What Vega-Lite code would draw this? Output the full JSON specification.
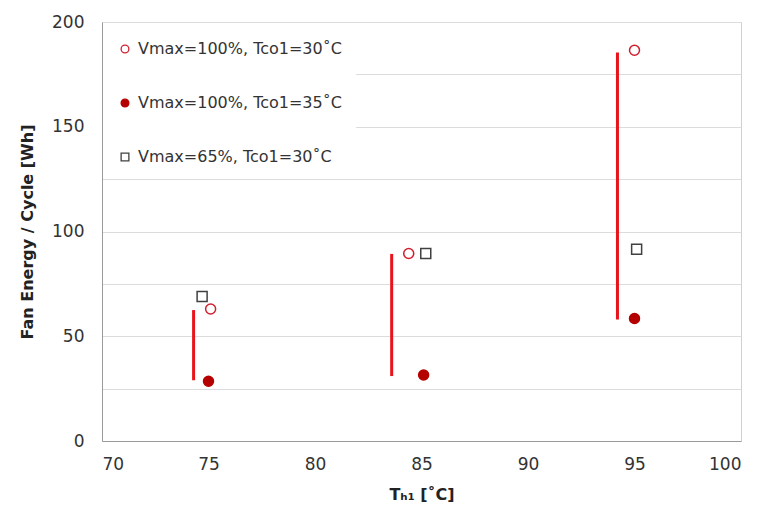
{
  "$schema": "https://vega.github.io/schema/vega-lite/v6.json",
  "width": 639,
  "height": 419,
  "autosize": {"type": "none"},
  "padding": {"left": 102, "top": 22, "right": 19, "bottom": 77},
  "background": "white",
  "config": {
    "font": "DejaVu Sans",
    "view": {"stroke": "#d0d0d0", "strokeWidth": 1},
    "axis": {
      "labelFont": "DejaVu Sans",
      "titleFont": "DejaVu Sans",
      "labelFontSize": 17,
      "labelColor": "#333333",
      "titleFontSize": 16,
      "titleColor": "#222222",
      "titleFontWeight": "bold",
      "gridColor": "#dcdcdc",
      "domainColor": "#9a9a9a",
      "ticks": false
    }
  },
  "datasets": {
    "pts": [
      {"series": "Vmax=100%, Tco1=30˚C", "T": 75.1, "E": 63},
      {"series": "Vmax=100%, Tco1=30˚C", "T": 84.4, "E": 89.5},
      {"series": "Vmax=100%, Tco1=30˚C", "T": 95.0, "E": 186.5},
      {"series": "Vmax=100%, Tco1=35˚C", "T": 75.0, "E": 28.5},
      {"series": "Vmax=100%, Tco1=35˚C", "T": 85.1, "E": 31.5},
      {"series": "Vmax=100%, Tco1=35˚C", "T": 95.0, "E": 58.5},
      {"series": "Vmax=65%, Tco1=30˚C", "T": 74.7, "E": 69},
      {"series": "Vmax=65%, Tco1=30˚C", "T": 85.2, "E": 89.5},
      {"series": "Vmax=65%, Tco1=30˚C", "T": 95.1, "E": 91.5}
    ],
    "arrows": [
      {"T": 74.3, "top": 62.5, "bottom": 29},
      {"T": 83.6, "top": 89.3, "bottom": 31},
      {"T": 94.2, "top": 185.5, "bottom": 58}
    ]
  },
  "layer": [
    {
      "data": {"name": "arrows"},
      "mark": {"type": "rule", "color": "#e8141c", "strokeWidth": 3},
      "encoding": {
        "x": {"field": "T", "type": "quantitative"},
        "y": {"field": "top", "type": "quantitative"},
        "y2": {"field": "bottom"}
      }
    },
    {
      "data": {"name": "pts"},
      "mark": {"type": "point", "size": 100, "strokeWidth": 1.5, "opacity": 1},
      "encoding": {
        "x": {
          "field": "T", "type": "quantitative",
          "scale": {"domain": [70, 100], "nice": false, "zero": false},
          "axis": {"values": [70, 75, 80, 85, 90, 95, 100], "title": "Tₕ₁ [˚C]", "labelPadding": 15, "titlePadding": 14, "grid": false}
        },
        "y": {
          "field": "E", "type": "quantitative",
          "scale": {"domain": [0, 200], "nice": false},
          "axis": {"values": [0, 25, 50, 75, 100, 125, 150, 175, 200], "labelExpr": "datum.value % 50 == 0 ? datum.label : ''", "title": "Fan Energy / Cycle [Wh]", "labelPadding": 18, "titlePadding": 16}
        },
        "shape": {
          "field": "series", "type": "nominal",
          "scale": {"domain": ["Vmax=100%, Tco1=30˚C", "Vmax=100%, Tco1=35˚C", "Vmax=65%, Tco1=30˚C"], "range": ["circle", "circle", "square"]},
          "legend": {"title": null}
        },
        "fill": {
          "field": "series", "type": "nominal",
          "scale": {"domain": ["Vmax=100%, Tco1=30˚C", "Vmax=100%, Tco1=35˚C", "Vmax=65%, Tco1=30˚C"], "range": ["white", "#b50000", "white"]},
          "legend": {"title": null}
        },
        "stroke": {
          "field": "series", "type": "nominal",
          "scale": {"domain": ["Vmax=100%, Tco1=30˚C", "Vmax=100%, Tco1=35˚C", "Vmax=65%, Tco1=30˚C"], "range": ["#d02030", "#b50000", "#404040"]},
          "legend": {
            "title": null,
            "orient": "none",
            "legendX": 1,
            "legendY": 5,
            "padding": 14,
            "fillColor": "white",
            "rowPadding": 38,
            "symbolSize": 60,
            "symbolStrokeWidth": 1.3,
            "labelFontSize": 16,
            "labelLimit": 400,
            "labelColor": "#333333",
            "labelFont": "DejaVu Sans",
            "labelOffset": 5
          }
        }
      }
    }
  ]
}
